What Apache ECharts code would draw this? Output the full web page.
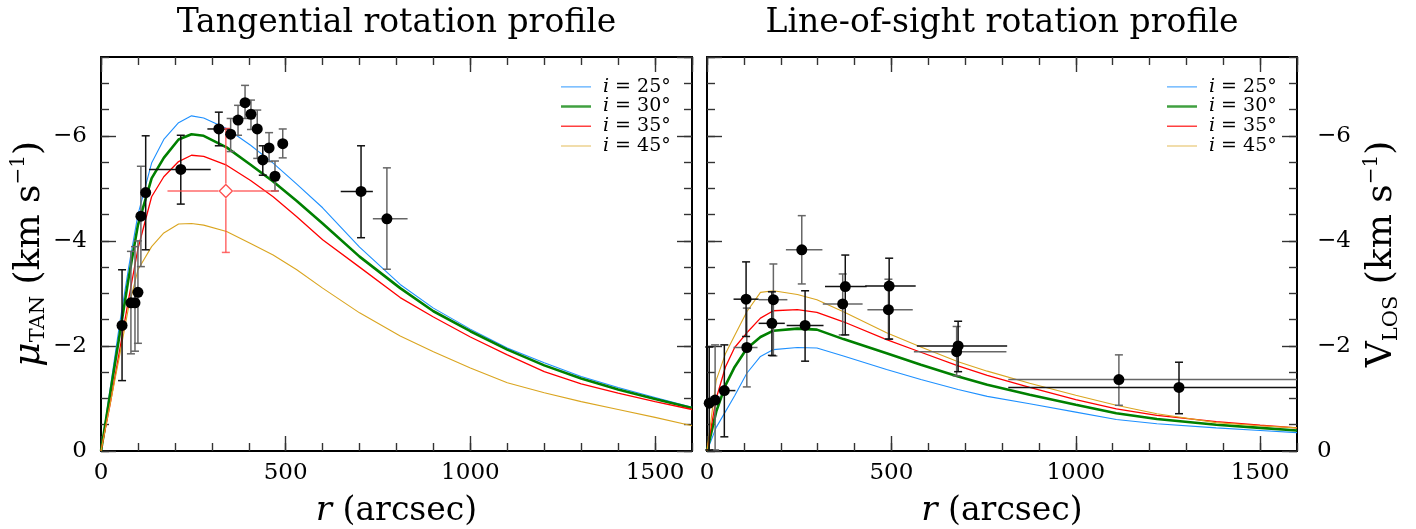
<!DOCTYPE html>
<html><head><meta charset="utf-8">
<script src="https://cdn.jsdelivr.net/npm/echarts@6/dist/echarts.min.js"></script>
<style>html,body{margin:0;padding:0;background:#fff}#c{width:1416px;height:529px}</style>
</head><body><div id="c"></div>
<script>
// ---------------- data ----------------
const panelTitles = ['Tangential rotation profile', 'Line-of-sight rotation profile'];
const inclinations = ['i = 25°', 'i = 30°', 'i = 35°', 'i = 45°'];
const lineColors = ['#1e90ff', '#008000', '#ff0000', '#daa520'];
const lineWidths = [1.1, 2.6, 1.3, 1.1];

// tangential model curves (mu_TAN, km/s)
const tanR     = [0, 25, 50, 75, 100, 137, 170, 210, 245, 278, 340, 405, 466, 530, 600, 700, 810, 900, 1000, 1100, 1200, 1300, 1400, 1500, 1600];
const tanI25   = [0,-1.2,-2.4,-3.5,-4.5,-5.48,-5.93,-6.25,-6.38,-6.34,-6.14,-5.82,-5.48,-5.08,-4.63,-3.88,-3.17,-2.72,-2.32,-1.96,-1.68,-1.42,-1.21,-1.02,-0.83];
const tanI30   = [0,-1.1,-2.2,-3.3,-4.3,-5.19,-5.58,-5.93,-6.03,-6.00,-5.78,-5.45,-5.13,-4.76,-4.33,-3.70,-3.10,-2.66,-2.28,-1.93,-1.63,-1.38,-1.17,-0.99,-0.82];
const tanI35   = [0,-0.9,-1.9,-2.9,-3.85,-4.84,-5.22,-5.51,-5.63,-5.61,-5.44,-5.15,-4.84,-4.46,-4.02,-3.50,-2.92,-2.55,-2.17,-1.83,-1.51,-1.28,-1.10,-0.94,-0.79];
const tanI45   = [0,-0.9,-1.8,-2.75,-3.45,-3.89,-4.15,-4.32,-4.33,-4.30,-4.18,-3.95,-3.73,-3.45,-3.10,-2.63,-2.19,-1.89,-1.58,-1.30,-1.11,-0.94,-0.79,-0.64,-0.48];

// line-of-sight model curves (V_LOS, km/s)
const losR     = [0, 25, 50, 75, 108, 145, 180, 245, 298, 370, 487, 580, 681, 760, 875, 1000, 1110, 1220, 1381, 1500, 1600];
const losI25   = [0,-0.45,-0.75,-1.05,-1.48,-1.80,-1.93,-1.97,-1.96,-1.81,-1.55,-1.36,-1.17,-1.04,-0.90,-0.74,-0.60,-0.52,-0.44,-0.39,-0.35];
const losI30   = [0,-0.75,-1.25,-1.60,-1.95,-2.17,-2.29,-2.33,-2.31,-2.13,-1.86,-1.64,-1.42,-1.26,-1.07,-0.88,-0.72,-0.61,-0.50,-0.44,-0.39];
const losI35   = [0,-1.00,-1.60,-1.97,-2.25,-2.53,-2.67,-2.69,-2.64,-2.46,-2.12,-1.88,-1.62,-1.44,-1.21,-0.98,-0.80,-0.68,-0.56,-0.49,-0.44];
const losI45   = [0,-1.35,-1.85,-2.20,-2.65,-3.02,-3.05,-2.98,-2.88,-2.65,-2.25,-1.98,-1.70,-1.52,-1.29,-1.06,-0.87,-0.71,-0.54,-0.48,-0.44];

// measured points: [r, value, errLow, errHigh, rLow, rHigh]
const tanPtsBlack = [
  [57, -2.39, -1.34, -3.45, 57, 57],
  [121, -4.92, -3.83, -6.00, 121, 121],
  [216, -5.36, -4.70, -6.01, 130, 297],
  [319, -6.13, -5.81, -6.45, 288, 349],
  [438, -5.54, -5.25, -5.81, 438, 438],
  [704, -4.94, -4.06, -5.81, 649, 736]
];
const tanPtsGray = [
  [81, -2.82, -1.85, -3.80, 72, 90],
  [92, -2.82, -1.90, -3.89, 92, 92],
  [100, -3.02, -2.05, -4.00, 100, 100],
  [108, -4.47, -3.51, -5.42, 108, 108],
  [351, -6.03, -5.70, -6.33, 351, 351],
  [371, -6.30, -6.01, -6.58, 371, 371],
  [390, -6.63, -6.33, -6.96, 390, 390],
  [406, -6.41, -6.12, -6.68, 406, 406],
  [423, -6.13, -5.57, -6.49, 423, 423],
  [455, -5.77, -5.51, -6.06, 455, 455],
  [471, -5.23, -4.95, -5.52, 471, 471],
  [492, -5.85, -5.58, -6.13, 492, 492],
  [774, -4.42, -3.46, -5.39, 736, 830]
];
const tanPtsRed = [
  [338, -4.95, -3.78, -6.14, 180, 480]
];
const losPtsBlack = [
  [6, -0.91, -0.02, -1.98, 6, 6],
  [47, -1.15, -0.27, -2.02, 34, 77],
  [106, -2.89, -2.18, -3.60, 72, 140],
  [176, -2.43, -1.82, -3.03, 140, 211],
  [266, -2.39, -1.71, -3.05, 216, 316],
  [375, -3.13, -2.21, -3.73, 320, 433],
  [494, -3.14, -2.13, -3.67, 429, 566],
  [681, -2.00, -1.51, -2.47, 569, 814],
  [1280, -1.21, -0.71, -1.69, 817, 1600]
];
const losPtsGray = [
  [22, -0.97, -0.02, -2.02, 22, 22],
  [108, -1.97, -1.22, -2.72, 72, 137],
  [180, -2.88, -1.81, -3.56, 140, 218],
  [257, -3.83, -3.18, -4.48, 214, 313],
  [368, -2.80, -2.21, -3.37, 314, 422],
  [492, -2.69, -2.13, -3.27, 435, 558],
  [677, -1.89, -1.43, -2.37, 561, 812],
  [1117, -1.36, -0.87, -1.83, 817, 1600]
];

// axis ranges / ticks
const rRange = [0, 1600], rMajor = 500, rMinor = 100;
const vRange = [0, 7.5], vMajor = 2, vMinor = 0.5;   // plotted as magnitude, labelled negative

// ---------------- build ----------------
const FONT = "'DejaVu Serif', serif";
const mag = v => -v;
const grids = [
  {left: 101, top: 57, width: 591, height: 394, containLabel: false, outerBoundsMode: 'none'},
  {left: 707, top: 57, width: 590, height: 394, containLabel: false, outerBoundsMode: 'none'}
];

function xAxesFor(g) {
  const base = {gridIndex: g, type: 'value', min: rRange[0], max: rRange[1], splitLine: {show: false}};
  const tickStyle = {color: '#333', width: 1.4};
  const line = {show: true, onZero: false, lineStyle: {color: '#000', width: 2}};
  return [
    Object.assign({}, base, {position: 'bottom', interval: rMajor, axisLine: line,
      axisTick: {inside: true, length: 15, lineStyle: tickStyle},
      axisLabel: {margin: 11, showMaxLabel: false, fontFamily: FONT, fontSize: 23, color: '#000', formatter: v => String(v)},
      name: '{it|r} (arcsec)', nameLocation: 'middle', nameGap: 43,
      nameTextStyle: {fontFamily: FONT, fontSize: 33, color: '#000',
        rich: {it: {fontFamily: FONT, fontSize: 34, fontStyle: 'italic', color: '#000'}}}}),
    Object.assign({}, base, {position: 'bottom', interval: rMinor, axisLine: {show: false, onZero: false},
      axisTick: {inside: true, length: 8, lineStyle: tickStyle}, axisLabel: {show: false}}),
    Object.assign({}, base, {position: 'top', interval: rMajor, axisLine: line,
      axisTick: {inside: true, length: 15, lineStyle: tickStyle}, axisLabel: {show: false}}),
    Object.assign({}, base, {position: 'top', interval: rMinor, axisLine: {show: false, onZero: false},
      axisTick: {inside: true, length: 8, lineStyle: tickStyle}, axisLabel: {show: false}})
  ];
}
function nameRich() {
  return {
    t:   {fontFamily: FONT, fontSize: 36, lineHeight: 40, color: '#000'},
    it:  {fontFamily: FONT, fontSize: 38, lineHeight: 40, fontStyle: 'italic', color: '#000'},
    sub: {fontFamily: FONT, fontSize: 21, lineHeight: 25, verticalAlign: 'bottom', color: '#000'},
    sup: {fontFamily: FONT, fontSize: 20, lineHeight: 21, verticalAlign: 'top', color: '#000'}
  };
}
function yAxesFor(g, labelSide, name, nameGap) {
  const base = {gridIndex: g, type: 'value', min: vRange[0], max: vRange[1], splitLine: {show: false}};
  const tickStyle = {color: '#333', width: 1.4};
  const line = {show: true, onZero: false, lineStyle: {color: '#000', width: 2}};
  const lab = {margin: labelSide === 'left' ? 14 : 20, showMaxLabel: false, fontFamily: FONT, fontSize: 23, color: '#000',
    formatter: v => v === 0 ? '0' : '\u2212' + v};
  const out = [];
  ['left', 'right'].forEach(side => {
    const major = Object.assign({}, base, {position: side, interval: vMajor, axisLine: line,
      axisTick: {inside: true, length: 15, lineStyle: tickStyle},
      axisLabel: side === labelSide ? lab : {show: false}});
    if (side === labelSide) {
      Object.assign(major, {name: name, nameLocation: 'middle', nameRotate: 90, nameGap: nameGap,
        nameTextStyle: {fontFamily: FONT, fontSize: 36, color: '#000', rich: nameRich()}});
    }
    out.push(major);
    out.push(Object.assign({}, base, {position: side, interval: vMinor, axisLine: {show: false, onZero: false},
      axisTick: {inside: true, length: 8, lineStyle: tickStyle}, axisLabel: {show: false}}));
  });
  return out;
}

const xAxis = xAxesFor(0).concat(xAxesFor(1));   // indices 0..3 grid0, 4..7 grid1
const yAxis = yAxesFor(0, 'left', '{it|\u03bc}{sub|TAN} {t|(km s}{sup|\u22121}{t|)}', 49)
  .concat(yAxesFor(1, 'right', '{t|V}{sub|LOS} {t|(km s}{sup|\u22121}{t|)}', 65));

function errRender(params, api) {
  const x = api.value(0), y = api.value(1), ylo = api.value(2), yhi = api.value(3), xlo = api.value(4), xhi = api.value(5);
  const color = api.visual('color');
  const style = {stroke: color, lineWidth: 1.5, fill: null};
  const a = api.coord([x, ylo]), b = api.coord([x, yhi]);
  const kids = [
    {type: 'line', shape: {x1: a[0], y1: a[1], x2: b[0], y2: b[1]}, style},
    {type: 'line', shape: {x1: a[0] - 4, y1: a[1], x2: a[0] + 4, y2: a[1]}, style},
    {type: 'line', shape: {x1: b[0] - 4, y1: b[1], x2: b[0] + 4, y2: b[1]}, style}
  ];
  if (xhi > xlo) {
    const l = api.coord([xlo, y]), r = api.coord([xhi, y]);
    kids.push({type: 'line', shape: {x1: l[0], y1: l[1], x2: r[0], y2: r[1]}, style});
  }
  return {type: 'group', children: kids};
}
const toPlot = arr => arr.map(p => [p[0], mag(p[1]), mag(p[2]), mag(p[3]), p[4], p[5]]);

const series = [];
function addPanel(g, rArr, curves, blackPts, grayPts) {
  const xi = g * 4, yi = g * 4;
  curves.forEach((vals, k) => {
    series.push({type: 'line', name: inclinations[k], xAxisIndex: xi, yAxisIndex: yi,
      data: rArr.map((r, j) => [r, mag(vals[j])]), symbol: 'none', smooth: false,
      lineStyle: {color: lineColors[k], width: lineWidths[k]}, itemStyle: {color: lineColors[k]}, z: 3});
  });
  [[grayPts, '#666'], [blackPts, '#111']].forEach(([pts, col]) => {
    series.push({type: 'custom', xAxisIndex: xi, yAxisIndex: yi, renderItem: errRender,
      itemStyle: {color: col}, data: toPlot(pts), z: 4, silent: true});
  });
  series.push({type: 'scatter', xAxisIndex: xi, yAxisIndex: yi, symbol: 'circle', symbolSize: 11,
    itemStyle: {color: '#000', opacity: 1}, data: blackPts.concat(grayPts).map(p => [p[0], mag(p[1])]), z: 5});
}
addPanel(0, tanR, [tanI25, tanI30, tanI35, tanI45], tanPtsBlack, tanPtsGray);
addPanel(1, losR, [losI25, losI30, losI35, losI45], losPtsBlack, losPtsGray);
// red open diamond point
series.push({type: 'custom', xAxisIndex: 0, yAxisIndex: 0, renderItem: errRender,
  itemStyle: {color: 'rgba(255,70,70,0.8)'}, data: toPlot(tanPtsRed), z: 4, silent: true});
series.push({type: 'scatter', xAxisIndex: 0, yAxisIndex: 0, symbol: 'emptyCircle', symbolSize: 13,
  itemStyle: {color: '#fff', borderColor: 'rgba(255,60,60,0.9)', borderWidth: 1.3, opacity: 1},
  data: tanPtsRed.map(p => [p[0], mag(p[1])]), z: 5});
series.push({type: 'scatter', xAxisIndex: 0, yAxisIndex: 0, symbol: 'diamond', symbolSize: 13,
  itemStyle: {color: 'rgba(0,0,0,0)', borderColor: 'rgba(255,60,60,0.9)', borderWidth: 1.3, opacity: 1},
  data: tanPtsRed.map(p => [p[0], mag(p[1])]), z: 6});

const iconFor = w => 'path://M0,0H30V' + w + 'H0Z M37,0L37,0.01';
function legendAt(x) {
  return {
    orient: 'vertical', left: x, top: 72, itemWidth: 37, itemHeight: 12, itemGap: 0, selectedMode: false,
    data: inclinations.map((n, k) => ({name: n, icon: iconFor(Math.max(1, lineWidths[k])),
      itemStyle: {color: lineColors[k], borderWidth: 0, opacity: 0.75}})),
    formatter: n => '{it|i}' + n.slice(1),
    textStyle: {fontFamily: FONT, fontSize: 19, lineHeight: 19.7, color: '#000',
      rich: {it: {fontFamily: FONT, fontSize: 19, fontStyle: 'italic', color: '#000'}}}
  };
}

const option = {
  animation: false,
  backgroundColor: '#fff',
  grid: grids,
  xAxis: xAxis,
  yAxis: yAxis,
  legend: [legendAt(556), legendAt(1162)],
  graphic: panelTitles.map((t, k) => ({
    type: 'text', x: grids[k].left + grids[k].width / 2, y: 23,
    style: {text: t, font: "33px 'DejaVu Serif', serif", fill: '#000',
      align: 'center', verticalAlign: 'middle', textAlign: 'center', textVerticalAlign: 'middle'}
  })),
  series: series
};
const chart = echarts.init(document.getElementById('c'), null, {renderer: 'canvas'});
chart.setOption(option);
</script></body></html>
